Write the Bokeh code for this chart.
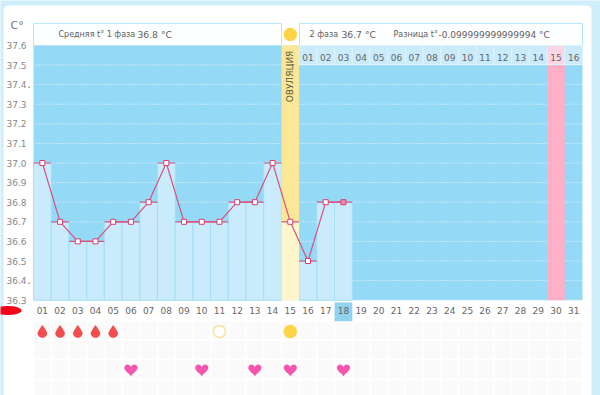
from bokeh.plotting import figure
from bokeh.models import FixedTicker, LinearAxis
from bokeh.core.properties import value
from bokeh.embed import file_html
from bokeh.resources import INLINE
import numpy as np

days = list(range(1, 32))
day_labels = [f"{d:02d}" for d in days]
temp_days = list(range(1, 19))
temps = [37.0, 36.7, 36.6, 36.6, 36.7, 36.7, 36.8, 37.0, 36.7, 36.7, 36.7, 36.8, 36.8, 37.0, 36.7, 36.5, 36.8, 36.8]
y_ticks = [36.3, 36.4, 36.5, 36.6, 36.7, 36.8, 36.9, 37.0, 37.1, 37.2, 37.3, 37.4, 37.5, 37.6]
y_labels = [f"{v:.1f}" for v in y_ticks]
dot_ticks = [36.4, 37.4]
phase2_days = list(range(16, 32))
phase2_labels = [f"{i:02d}" for i in range(1, 17)]
ovulation_day = 15
today = 18
period_end_day = 30
drop_days = [1, 2, 3, 4, 5]
heart_days = [6, 10, 13, 15, 18]
open_circle_days = [11]
sun_days = [15]

W, H = 600, 395
LEFT, RIGHT = 33.0, 582.0
CELL = (RIGHT - LEFT) / 31
Y370, PXY = 162.5, 196.0


def X(px):
    return 0.5 + (np.asarray(px, dtype=float) - LEFT) / CELL


def Y(px):
    return 37.0 - (np.asarray(px, dtype=float) - Y370) / PXY


def px_of_day(d):
    return LEFT + (np.asarray(d, dtype=float) - 0.5) * CELL


p = figure(width=W, height=H, x_range=(float(X(0)), float(X(W))), y_range=(float(Y(H)), float(Y(0))),
           toolbar_location=None, output_backend="svg", min_border=0,
           background_fill_color="#cfeefb", border_fill_color="#cfeefb", outline_line_color=None)
p.xaxis.visible = False
p.yaxis.visible = False
p.grid.visible = False

# white card
p.quad(left=[X(3)], right=[X(591)], top=[Y(5)], bottom=[Y(H + 20)], fill_color="white", line_color=None, border_radius=5)
# blue plot area
p.quad(left=[X(LEFT)], right=[X(RIGHT)], top=[Y(45)], bottom=[36.3], fill_color="#94d9f5", line_color=None)
# dotted grid
p.segment(x0=[X(35)] * len(y_ticks), x1=[X(RIGHT)] * len(y_ticks), y0=y_ticks, y1=y_ticks,
          line_color="white", line_width=1, line_dash="1 2", line_alpha=0.9)

# pink column
p.quad(left=[period_end_day - 0.5], right=[period_end_day + 0.5], top=[Y(64)], bottom=[36.3], fill_color="#fdb0c8", line_color=None)

# bars
bar_d = [d for d in temp_days if d != ovulation_day]
bar_t = [t for d, t in zip(temp_days, temps) if d != ovulation_day]
p.quad(left=[d - 0.5 for d in bar_d], right=[d + 0.5 for d in bar_d], top=bar_t, bottom=[36.3] * len(bar_d),
       fill_color="#c9ebfc", line_color="#a6dff7", line_width=1)

# ovulation column
ov_t = temps[temp_days.index(ovulation_day)]
p.quad(left=[ovulation_day - 0.5], right=[ovulation_day + 0.5], top=[Y(45)], bottom=[ov_t], fill_color="#fbe796", line_color=None)
p.quad(left=[ovulation_day - 0.5], right=[ovulation_day + 0.5], top=[ov_t], bottom=[36.3], fill_color="#fff6cc", line_color=None)
p.text(x=[ovulation_day], y=[Y(76)], text=["ОВУЛЯЦИЯ"], angle=[np.pi / 2], text_align="center", text_baseline="middle",
       text_font=value("DejaVu Sans"), text_font_size="9px", text_color="#555544")

# header boxes
for l, r in [(LEFT, 281.0), (299.0, RIGHT)]:
    p.quad(left=[X(l)], right=[X(r)], top=[Y(23)], bottom=[Y(45)], fill_color="#fdfefe", line_color="#b8e6f8", line_width=1)

# second-phase day cells
cell_colors = ["#fcd6e4" if d == period_end_day else "#c9ebfc" for d in phase2_days]
p.quad(left=[d - 0.5 for d in phase2_days], right=[d + 0.5 for d in phase2_days], top=[Y(45)] * 16, bottom=[Y(64)] * 16,
       fill_color=cell_colors, line_color="#dff4fd", line_width=1)
p.text(x=phase2_days, y=[Y(56.5)] * 16, text=phase2_labels, text_align="center", text_baseline="middle",
       text_font=value("DejaVu Sans"), text_font_size="9px", text_color="#666666")

# caps, line, markers
p.segment(x0=[d - 0.5 for d in temp_days], x1=[d + 0.5 for d in temp_days], y0=temps, y1=temps,
          line_color="#cf4a7c", line_width=1.2, line_alpha=0.9)
p.line(temp_days, temps, line_color="#d9507f", line_width=1.2)
marker_fill = ["#f08cb0" if d == today else "white" for d in temp_days]
p.scatter(temp_days, temps, marker="square", size=5, fill_color=marker_fill, line_color="#d9406f", line_width=1)

# today cell
p.quad(left=[today - 0.5], right=[today + 0.5], top=[Y(302)], bottom=[Y(321)], fill_color="#8fd3ef", line_color=None)

# marks rows
rows = [(321, 338.5), (340.5, 358.5), (359.5, 378), (380, 400)]
for top, bot in rows:
    p.quad(left=[d - 0.46 for d in days], right=[d + 0.46 for d in days], top=[Y(top)] * 31, bottom=[Y(bot)] * 31,
           fill_color="#fafafa", line_color=None)

t = np.linspace(0, 2 * np.pi, 50)


def shape(ds, yc, fx, fy):
    xs = [((px_of_day(d) + fx) - LEFT) / CELL + 0.5 for d in ds]
    ys = [Y(yc + fy) for d in ds]
    return xs, ys


# drops: round belly with a tapered point on top
a = np.linspace(0, 2 * np.pi, 60)
dx = 4.8 * np.sin(a) * np.where(np.cos(a) > 0, np.sqrt(np.clip(1 - np.cos(a), 0, None)) * 0.8 + 0.2 * (1 - np.cos(a)), 1.0)
dy = np.where(np.cos(a) > 0, -8.0 * np.cos(a), -4.8 * np.cos(a))
xs, ys = shape(drop_days, 332.5, dx, dy)
p.patches(xs, ys, fill_color="#f24e50", line_color=None)

# hearts
hx = 6.6 * np.sin(t) ** 3
hy = -(5.4 * np.cos(t) - 2.1 * np.cos(2 * t) - 0.85 * np.cos(3 * t) - 0.4 * np.cos(4 * t))
xs, ys = shape(heart_days, 369, hx, hy)
p.patches(xs, ys, fill_color="#f655b0", line_color=None)

# circles
p.scatter(open_circle_days, [Y(331)] * len(open_circle_days), marker="circle", size=12, fill_color="white", line_color="#fbe08f", line_width=1.5)
p.scatter(sun_days, [Y(331)] * len(sun_days), marker="circle", size=13.5, fill_color="#fdd445", line_color=None)
p.scatter([ovulation_day], [Y(34)], marker="circle", size=13.5, fill_color="#fdd445", line_color=None)

# axes
yaxis = LinearAxis(fixed_location=float(X(26)), ticker=FixedTicker(ticks=y_ticks),
                   major_label_overrides=dict(zip(y_ticks, y_labels)))
yaxis.major_tick_line_color = None
yaxis.minor_tick_line_color = None
yaxis.axis_line_color = None
yaxis.major_tick_out = 0
yaxis.major_tick_in = 0
yaxis.major_label_standoff = 0
yaxis.major_label_orientation = "horizontal"
yaxis.major_label_text_font = "DejaVu Sans"
yaxis.major_label_text_font_size = "9px"
yaxis.major_label_text_color = "#888888"
p.add_layout(yaxis, "left")
p.text(x=[X(27)] * len(dot_ticks), y=dot_ticks, y_offset=[-1] * len(dot_ticks), text=["."] * len(dot_ticks),
       text_align="left", text_baseline="middle",
       text_font=value("DejaVu Sans"), text_font_size="10px", text_color="#666666")

xaxis = LinearAxis(fixed_location=float(Y(306)), ticker=FixedTicker(ticks=days),
                   major_label_overrides=dict(zip(days, day_labels)))
xaxis.major_tick_line_color = None
xaxis.minor_tick_line_color = None
xaxis.axis_line_color = None
xaxis.major_tick_out = 0
xaxis.major_tick_in = 0
xaxis.major_label_standoff = 0
xaxis.major_label_text_font = "DejaVu Sans"
xaxis.major_label_text_font_size = "9px"
xaxis.major_label_text_color = "#666666"
p.add_layout(xaxis, "below")

p.text(x=[X(10)], y=[Y(25)], text=["C°"], text_align="left", text_baseline="middle",
       text_font=value("DejaVu Sans"), text_font_size="11px", text_color="#777777")


def head(px, py, txt, size):
    p.text(x=[X(px)], y=[Y(py)], text=[txt], text_align="left", text_baseline="middle",
           text_font=value("DejaVu Sans"), text_font_size=size, text_color="#606060")


head(58, 34, "Средняя t° 1 фаза", "8px")
head(137, 34, "36.8 °C", "9.2px")
head(309, 34, "2 фаза", "8px")
head(341, 34, "36.7 °C", "9.2px")
head(393, 34, "Разница t°", "8px")
head(438, 34, "-0.099999999999994 °C", "9px")

# red scribble
p.ellipse(x=[X(7)], y=[Y(310)], width=[28 / CELL], height=[9 / PXY], fill_color="#f3051a", line_color=None)

open("out.html", "w").write(file_html(p, INLINE))
